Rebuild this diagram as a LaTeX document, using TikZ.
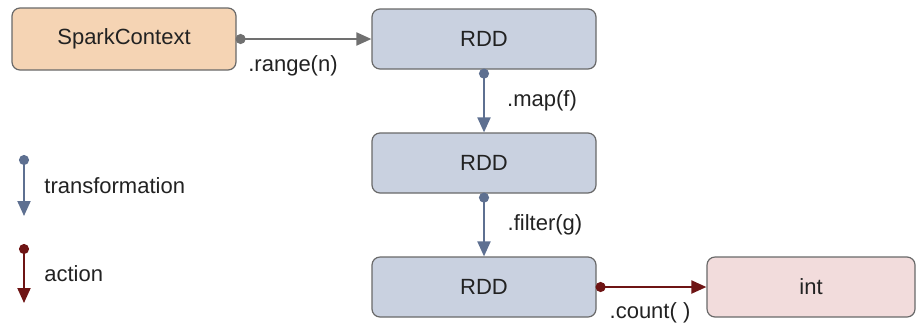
\documentclass[tikz,border=0pt]{standalone}
\usepackage{fontspec}
\setmainfont{Liberation Sans}
\usetikzlibrary{arrows.meta}
\definecolor{sparkfill}{RGB}{245,212,180}
\definecolor{rddfill}{RGB}{201,209,224}
\definecolor{intfill}{RGB}{242,220,220}
\definecolor{boxline}{RGB}{105,105,105}
\definecolor{transcol}{RGB}{94,112,145}
\definecolor{actcol}{RGB}{110,20,20}
\definecolor{rangecol}{RGB}{112,112,112}
\definecolor{txt}{RGB}{34,34,34}
\tikzset{
  box/.style={draw=boxline, line width=0.6pt, rounded corners=4pt, minimum height=31pt, inner sep=0pt, text=txt, font=\fontsize{11}{13}\selectfont},
  sparkbox/.style={box, fill=sparkfill, minimum width=112pt},
  rddbox/.style={box, fill=rddfill, minimum width=112pt, minimum height=30pt},
  intbox/.style={box, fill=intfill, minimum width=104pt, minimum height=30pt},
  conn/.style={line width=1pt, {Circle[length=5pt]}-{Triangle[length=7.5pt,width=6.5pt]}},
  trans/.style={conn, draw=transcol, fill=transcol},
  act/.style={conn, draw=actcol, fill=actcol},
  rangeconn/.style={conn, draw=rangecol, fill=rangecol},
  lbl/.style={text=txt, font=\fontsize{11}{13}\selectfont, inner sep=0pt},
}
\begin{document}
\begin{tikzpicture}[x=0.5pt,y=-0.5pt]
\useasboundingbox (0,0) rectangle (919,328);
\node[sparkbox] (spark) at (124,39) {SparkContext};
\node[rddbox] (rdd1) at (484,39) {RDD};
\node[rddbox] (rdd2) at (484,163) {RDD};
\node[rddbox] (rdd3) at (484,287) {RDD};
\node[intbox] (int) at (811,287) {int};

\draw[rangeconn] ([xshift=-0.5pt]spark.east) -- (rdd1);
\draw[trans] ([yshift=0.5pt]rdd1.south) -- (rdd2);
\draw[trans] ([yshift=0.5pt]rdd2.south) -- (rdd3);
\draw[act] ([xshift=-0.5pt]rdd3.east) -- (int);

\node[lbl] (lrange) at (293,66) {.range(n)};
\node[lbl] (lmap) at (542,101) {.map(f)};
\node[lbl] (lfilter) at (545,225) {.filter(g)};
\node[lbl] (lcount) at (650,313) {.count( )};

\coordinate (t1) at (24,155);
\coordinate (t2) at (24,216);
\coordinate (a1) at (24,244);
\coordinate (a2) at (24,303);
\draw[trans] (t1) -- (t2);
\draw[act] (a1) -- (a2);
\node[lbl, anchor=west] (ltrans) at (44,186) {transformation};
\node[lbl, anchor=west] (lact) at (44,274) {action};
\end{tikzpicture}
\end{document}
